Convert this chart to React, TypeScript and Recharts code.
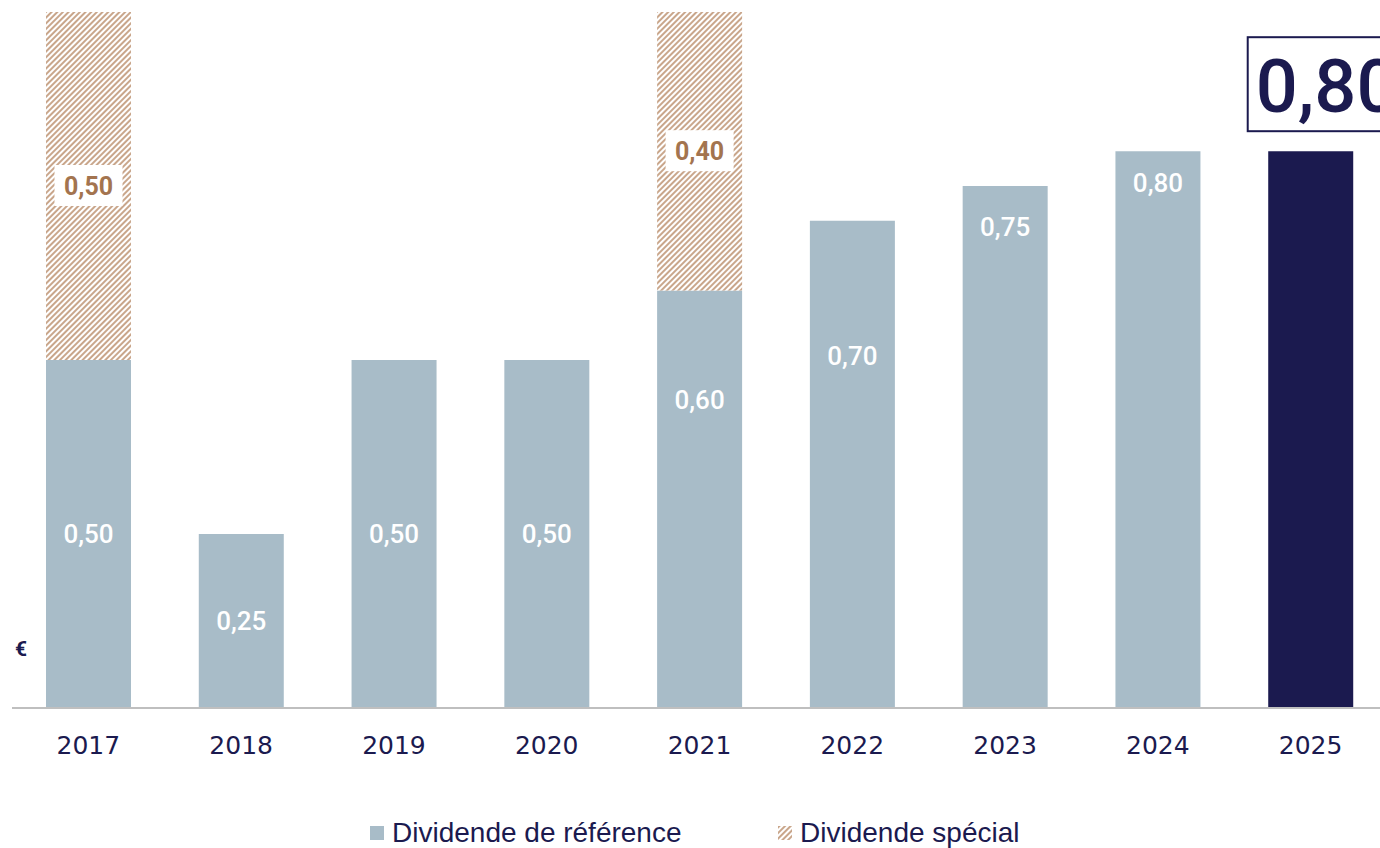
import React from "react";
import { BarChart, Bar, XAxis, YAxis, Cell, LabelList, Legend } from "recharts";

if (typeof document !== "undefined") document.body.style.margin = "0";

const years = ["2017", "2018", "2019", "2020", "2021", "2022", "2023", "2024", "2025"];
const referenceDividend = [0.5, 0.25, 0.5, 0.5, 0.6, 0.7, 0.75, 0.8, 0.8];
const specialDividend = [0.5, 0, 0, 0, 0.4, 0, 0, 0, 0];
const seriesNames = ["Dividende de référence", "Dividende spécial"];

const data = years.map((year, i) => ({
  year,
  reference: referenceDividend[i],
  special: specialDividend[i],
}));

const NAVY = "#1b1a4f";
const GREY_BLUE = "#a8bcc8";
const HATCH = "#c9a68b";
const BROWN = "#a3744f";
const NUM_FONT = "Roboto, 'Noto Sans', sans-serif";

const fmt = (v: number) => v.toFixed(2).replace(".", ",");

// label drop from the bar top for the taller bars (others are centred)
const labelDrop: Record<number, number> = { 4: 110, 5: 135, 6: 41, 7: 32 };

function ReferenceLabel(props: any) {
  const { x, y, width, height, value, index } = props;
  const cx = x + width / 2;
  if (index === years.length - 1) {
    const top = y - 114;
    return (
      <g>
        <rect x={cx - 63} y={top} width={200} height={94} fill="#fff" stroke={NAVY} strokeWidth={2} />
        <text x={cx - 55} y={top + 75} fill={NAVY} fontFamily={NUM_FONT} fontWeight={500} fontSize={74}>
          {fmt(value)}
        </text>
      </g>
    );
  }
  const cy = labelDrop[index] !== undefined ? y + labelDrop[index] : y + height / 2;
  return (
    <text x={cx} y={cy} fill="#fff" textAnchor="middle" dominantBaseline="central"
      fontFamily={NUM_FONT} fontWeight={500} fontSize={26}>
      {fmt(value)}
    </text>
  );
}

function SpecialLabel(props: any) {
  const { x, y, width, height, value } = props;
  if (!value) return null;
  const cx = x + width / 2;
  const cy = y + height / 2;
  return (
    <g>
      <rect x={cx - 34} y={cy - 21} width={68} height={41} fill="#fff" />
      <text x={cx} y={cy} fill={BROWN} textAnchor="middle" dominantBaseline="central"
        fontFamily={NUM_FONT} fontWeight={700} fontSize={25}>
        {fmt(value)}
      </text>
    </g>
  );
}

function LegendContent() {
  const textStyle: React.CSSProperties = {
    fontFamily: "'Liberation Sans', Arial, sans-serif",
    fontSize: 28,
    color: NAVY,
    lineHeight: "32px",
  };
  return (
    <div style={{ position: "relative", height: 40 }}>
      <div style={{ position: "absolute", left: 370, top: 5, display: "flex", alignItems: "center" }}>
        <span style={{ width: 14, height: 14, background: GREY_BLUE, display: "inline-block", marginRight: 8 }} />
        <span style={textStyle}>{seriesNames[0]}</span>
      </div>
      <div style={{ position: "absolute", left: 778, top: 5, display: "flex", alignItems: "center" }}>
        <svg width={14} height={14} style={{ marginRight: 8 }}>
          <defs>
            <pattern id="hatchLegend" patternUnits="userSpaceOnUse" width={4} height={4} patternTransform="rotate(45)">
              <rect x={0} y={0} width={2} height={4} fill={HATCH} />
            </pattern>
          </defs>
          <rect width={14} height={14} fill="url(#hatchLegend)" />
        </svg>
        <span style={textStyle}>{seriesNames[1]}</span>
      </div>
    </div>
  );
}

export default function App() {
  return (
    <div style={{ position: "relative", width: 1380, height: 848, overflow: "hidden", background: "#fff" }}>
      <BarChart
        width={1390}
        height={848}
        data={data}
        margin={{ top: 12, right: 3, left: 12, bottom: 110 }}
        barCategoryGap={0}
      >
        <defs>
          <pattern id="hatch" patternUnits="userSpaceOnUse" width={4} height={4} patternTransform="rotate(45)">
            <rect x={0} y={0} width={4} height={4} fill="#fff" />
            <rect x={0} y={0} width={2} height={4} fill={HATCH} />
          </pattern>
        </defs>
        <XAxis
          dataKey="year"
          height={30}
          tickLine={false}
          axisLine={{ stroke: "#bfbfbf", strokeWidth: 2 }}
          tick={{ fill: NAVY, fontSize: 25, fontFamily: "'DejaVu Sans', sans-serif" }}
          tickMargin={22}
          interval={0}
        />
        <YAxis hide domain={[0, 1]} />
        <Legend
          layout="horizontal"
          verticalAlign="middle"
          align="center"
          wrapperStyle={{ top: 812, left: 0, width: 1380 }}
          content={<LegendContent />}
        />
        <Bar dataKey="reference" name={seriesNames[0]} stackId="a" barSize={85} fill={GREY_BLUE} isAnimationActive={false}>
          {data.map((d, i) => (
            <Cell key={d.year} fill={i === years.length - 1 ? NAVY : GREY_BLUE} />
          ))}
          <LabelList dataKey="reference" content={<ReferenceLabel />} />
        </Bar>
        <Bar dataKey="special" name={seriesNames[1]} stackId="a" barSize={85} fill="url(#hatch)" isAnimationActive={false}>
          <LabelList dataKey="special" content={<SpecialLabel />} />
        </Bar>
      </BarChart>
      <span
        style={{
          position: "absolute",
          left: 15,
          top: 637,
          fontFamily: NUM_FONT,
          fontWeight: 700,
          fontSize: 21,
          color: NAVY,
        }}
      >
        €
      </span>
    </div>
  );
}
